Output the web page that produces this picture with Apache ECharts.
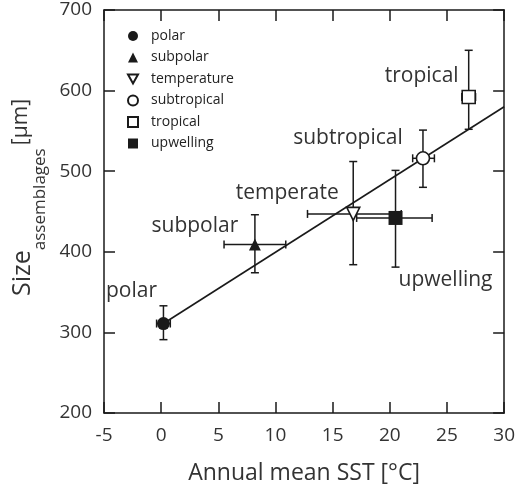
<!DOCTYPE html>
<html>
<head>
<meta charset="utf-8">
<script src="https://cdn.jsdelivr.net/npm/echarts@6/dist/echarts.min.js"></script>
<style>
  html, body { margin: 0; padding: 0; background: #fff; }
  #chart { width: 518px; height: 494px; }
</style>
</head>
<body>
<div id="chart"></div>
<script>
// legend names (the legend says "temperature", the point label says "temperate")
const groups = ['polar', 'subpolar', 'temperature', 'subtropical', 'tropical', 'upwelling']
const pointLabels = ['polar', 'subpolar', 'temperate', 'subtropical', 'tropical', 'upwelling']

// annual mean SST [°C] and assemblage size [µm], with error ranges
const sst = [0.2, 8.2, 16.8, 22.9, 26.9, 20.5]
const sstLow = [-0.4, 5.5, 12.8, 22.0, 26.3, 17.1]
const sstHigh = [0.8, 10.9, 21.0, 23.9, 27.5, 23.7]
const sizeMean = [311, 409, 447, 516, 592, 442]
const sizeLow = [291, 374, 384, 480, 552, 381]
const sizeHigh = [333, 446, 512, 551, 650, 501]

// regression line end points
const fitSst = [0.2, 30]
const fitSize = [311, 580]

const xTicks = { min: -5, max: 30, interval: 5 }
const yTicks = { min: 200, max: 700, interval: 100 }

const FONT = '"Open Sans", "Noto Sans", sans-serif'
const INK = '#1a1a1a'
const TXT = '#333'

const DOWN_TRI = 'path://M0,0L10,0L5,9Z'

// marker look per group
const markerStyle = {
  polar: { symbol: 'circle', size: 13, open: false },
  subpolar: { symbol: 'triangle', size: 12, open: false },
  temperature: { symbol: DOWN_TRI, size: 13, open: true },
  subtropical: { symbol: 'circle', size: 13, open: true },
  tropical: { symbol: 'rect', size: 13, open: true },
  upwelling: { symbol: 'rect', size: 14, open: false },
}
// where each point's text sits relative to the marker (px)
const labelOffset = {
  polar: [-32, -33],
  subpolar: [-60, -19],
  temperature: [-66, -21],
  subtropical: [-75, -20],
  tropical: [-47, -21],
  upwelling: [50, 62],
}

const chart = echarts.init(document.getElementById('chart'))

const errorRows = groups.map((g, i) => [sst[i], sizeMean[i], sstLow[i], sstHigh[i], sizeLow[i], sizeHigh[i]])

function renderErrorBar(params, api) {
  const x = api.value(0)
  const y = api.value(1)
  const c = api.coord([x, y])
  const xl = api.coord([api.value(2), y])
  const xh = api.coord([api.value(3), y])
  const yl = api.coord([x, api.value(4)])
  const yh = api.coord([x, api.value(5)])
  const cap = 4
  const style = { stroke: INK, lineWidth: 1.5 }
  const seg = (x1, y1, x2, y2) => ({ type: 'line', shape: { x1, y1, x2, y2 }, style })
  return {
    type: 'group',
    children: [
      seg(xl[0], c[1], xh[0], c[1]),
      seg(xl[0], c[1] - cap, xl[0], c[1] + cap),
      seg(xh[0], c[1] - cap, xh[0], c[1] + cap),
      seg(c[0], yl[1], c[0], yh[1]),
      seg(c[0] - cap, yl[1], c[0] + cap, yl[1]),
      seg(c[0] - cap, yh[1], c[0] + cap, yh[1]),
    ],
  }
}

const pointSeries = groups.map((g, i) => {
  const m = markerStyle[g]
  return {
    name: g,
    type: 'scatter',
    symbol: m.symbol,
    symbolSize: m.size,
    z: 5,
    itemStyle: m.open
      ? { color: '#fff', borderColor: INK, borderWidth: 1.6, opacity: 1 }
      : { color: INK, borderColor: INK, borderWidth: 0, opacity: 1 },
    label: {
      show: true,
      position: 'inside',
      offset: labelOffset[g],
      formatter: pointLabels[i],
      fontFamily: FONT,
      fontSize: 21,
      color: TXT,
    },
    emphasis: { disabled: true },
    data: [[sst[i], sizeMean[i]]],
  }
})

const boxAxis = (extra) => Object.assign({
  type: 'value',
  splitLine: { show: false },
  axisLine: { show: true, onZero: false, lineStyle: { color: INK, width: 1.5 } },
  axisTick: { show: true, inside: true, length: 11, lineStyle: { color: INK, width: 1.5 } },
}, extra)

chart.setOption({
  animation: false,
  backgroundColor: '#fff',
  grid: { left: 104, right: 12, top: 10, bottom: 81 },
  legend: {
    data: groups.map((g) => ({ name: g, icon: markerStyle[g].symbol })),
    orient: 'vertical',
    left: 122,
    top: 24,
    itemWidth: 10,
    itemHeight: 10,
    itemGap: 7.5,
    textStyle: { fontFamily: FONT, fontSize: 14, color: '#222', lineHeight: 14, padding: [0, 0, 0, 8] },
  },
  xAxis: [
    boxAxis({
      position: 'bottom',
      min: xTicks.min, max: xTicks.max, interval: xTicks.interval,
      axisLabel: { fontFamily: FONT, fontSize: 19, color: TXT, margin: 13 },
      name: 'Annual mean SST [°C]',
      nameLocation: 'middle',
      nameGap: 49,
      nameTextStyle: { fontFamily: FONT, fontSize: 23, color: TXT },
    }),
    boxAxis({
      position: 'top',
      min: xTicks.min, max: xTicks.max, interval: xTicks.interval,
      axisLabel: { show: false },
    }),
  ],
  yAxis: [
    boxAxis({
      position: 'left',
      min: yTicks.min, max: yTicks.max, interval: yTicks.interval,
      axisLabel: { fontFamily: FONT, fontSize: 19, color: TXT, margin: 12 },
      name: '{a|Size}{b|assemblages} {c|[µm]}',
      nameLocation: 'middle',
      nameGap: 52,
      nameTextStyle: {
        fontFamily: FONT,
        color: TXT,
        padding: [0, 0, 0, 28],
        rich: {
          a: { fontFamily: FONT, fontSize: 25, lineHeight: 38, verticalAlign: 'top', color: TXT },
          b: { fontFamily: FONT, fontSize: 17, lineHeight: 17, verticalAlign: 'bottom', color: TXT },
          c: { fontFamily: FONT, fontSize: 21, lineHeight: 38, verticalAlign: 'top', color: TXT },
        },
      },
    }),
    boxAxis({
      position: 'right',
      min: yTicks.min, max: yTicks.max, interval: yTicks.interval,
      axisLabel: { show: false },
    }),
  ],
  series: [
    {
      name: 'fit',
      type: 'line',
      symbol: 'none',
      z: 1,
      lineStyle: { color: INK, width: 1.6 },
      emphasis: { disabled: true },
      data: fitSst.map((x, i) => [x, fitSize[i]]),
    },
    {
      name: 'error',
      type: 'custom',
      z: 2,
      silent: true,
      renderItem: renderErrorBar,
      data: errorRows,
    },
    ...pointSeries,
  ],
})
</script>
</body>
</html>
